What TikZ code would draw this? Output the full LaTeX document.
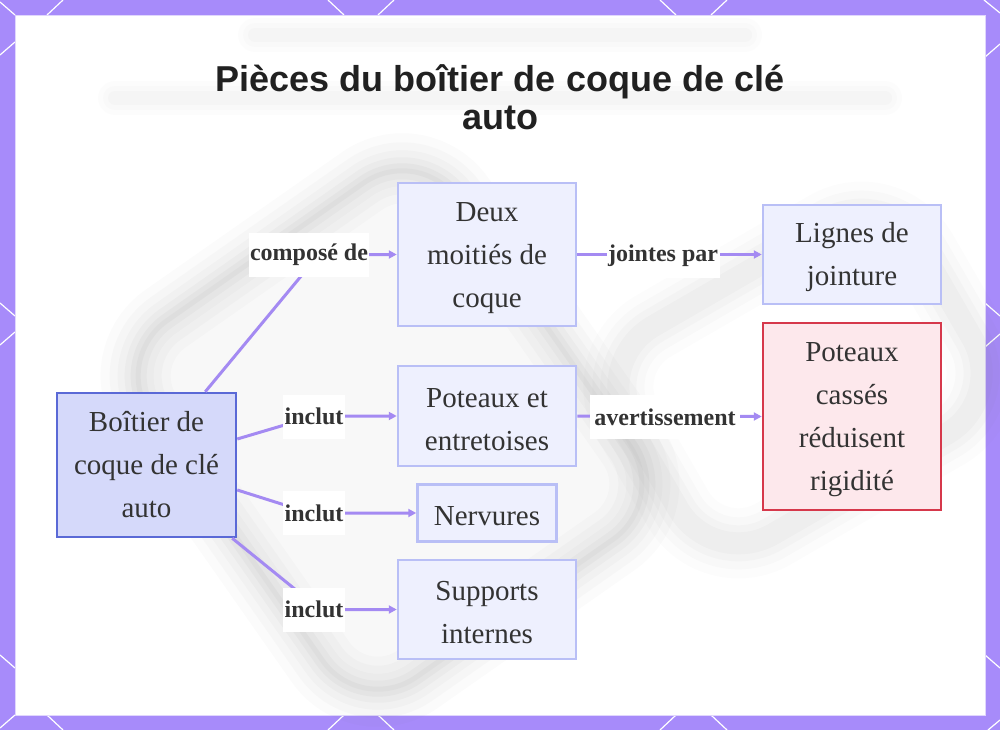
\documentclass[tikz,border=0pt]{standalone}
\usepackage{fontspec}
\setmainfont{Liberation Serif}
\newfontfamily\titlefont{Liberation Sans}
\usetikzlibrary{arrows.meta}
\definecolor{framec}{HTML}{A78BFA}
\definecolor{edgec}{HTML}{A48AF2}
\definecolor{boxfill}{HTML}{EEF0FE}
\definecolor{boxline}{HTML}{B9BFF6}
\definecolor{mainfill}{HTML}{D5D9FA}
\definecolor{mainline}{HTML}{5A69D6}
\definecolor{warnfill}{HTML}{FDE8EC}
\definecolor{warnline}{HTML}{D6384B}
\definecolor{inkc}{HTML}{333333}
\newcommand{\fst}{\rule{0pt}{26pt}}
\begin{document}
\begin{tikzpicture}[x=1pt,y=-1pt,
  box/.style={draw=boxline, fill=boxfill, line width=2.5pt, inner sep=0pt, align=center,
    font=\fontsize{29}{43}\selectfont, text=inkc},
  mainbox/.style={box, draw=mainline, fill=mainfill},
  warnbox/.style={box, draw=warnline, fill=warnfill},
  edge/.style={draw=edgec, line width=3pt, -{Triangle[length=8pt,width=8pt]}},
  lab/.style={fill=white, font=\bfseries\fontsize{24}{28}\selectfont, inner xsep=1.5pt,
    minimum height=44pt, text=inkc},
  blur/.style={draw=gray, rounded corners=70pt},
  smear/.style={line cap=round, draw=gray}
]
\useasboundingbox (0,0) rectangle (1000,730);
% frame
\fill[framec] (0,0) rectangle (1000,730);
\begin{scope}[white, line width=1.2pt]
  % top
  \draw (0,2)--(15,15) (47,15)--(63,0) (328,0)--(344,15) (378,15)--(394,0)
        (660,0)--(676,15) (711,15)--(727,0) (984,0)--(1000,13);
  % bottom
  \draw (0,728)--(15,715) (47,715)--(63,730) (328,730)--(344,715) (378,715)--(394,730)
        (660,730)--(676,715) (711,715)--(727,730) (988,730)--(1000,720);
  % left
  \draw (0,55)--(15,42) (0,303)--(15,316) (0,345)--(15,332) (0,655)--(15,668);
  % right
  \draw (985,57)--(1000,44) (985,303)--(1000,316) (985,347)--(1000,334) (985,655)--(1000,668);
\end{scope}
\fill[white] (15,15) rectangle (985,715);
\draw[framec!35, line width=0.8pt] (15,15) rectangle (985,715);
% blurred background shapes
\begin{scope}[shift={(390,430)}, rotate=35]
  \foreach \w/\o in {70/0.03,52/0.035,36/0.04,22/0.05,10/0.06}
    \draw[blur, line width=\w pt, opacity=\o] (-190,-220) rectangle (190,220);
  \fill[gray, opacity=0.05, rounded corners=70pt] (-190,-220) rectangle (190,220);
\end{scope}
\begin{scope}[shift={(800,380)}, rotate=30]
  \foreach \w/\o in {70/0.025,52/0.03,36/0.035,22/0.04}
    \draw[blur, line width=\w pt, opacity=\o] (-170,-120) rectangle (170,120);
\end{scope}
% blurred smears near the top
\foreach \w/\o in {34/0.02,24/0.025,14/0.03}{
  \draw[smear, line width=\w pt, opacity=\o] (255,35) -- (745,35);
  \draw[smear, line width=\w pt, opacity=\o] (115,98) -- (885,98);
}
% title
\node[inner sep=0pt, align=center, text=black!87,
      font=\titlefont\bfseries\fontsize{36}{38}\selectfont] (title) at (500,97)
  {Pièces du boîtier de coque de clé\\auto};
% nodes
\node[box, minimum width=178pt, minimum height=143pt] (deux) at (487,254.5) {\fst Deux\\moitiés de\\coque};
\node[box, minimum width=178pt, minimum height=99pt] (lignes) at (852,254.5) {\fst Lignes de\\jointure};
\node[box, minimum width=178pt, minimum height=100pt] (poteaux) at (487,416) {\fst Poteaux et\\entretoises};
\node[warnbox, minimum width=178pt, minimum height=187pt] (casses) at (852,416.5) {\fst Poteaux\\cassés\\réduisent\\rigidité};
\node[mainbox, minimum width=179pt, minimum height=144pt] (boitier) at (146.5,465) {Boîtier de\\coque de clé\\auto};
\node[box, minimum width=139pt, minimum height=57pt] (nerv) at (487,513) {\fst Nervures};
\node[box, minimum width=178pt, minimum height=99pt] (supp) at (487,609.5) {\fst Supports\\internes};
% bend points
\coordinate (k1) at (319,254.5);
\coordinate (k2) at (315,416);
\coordinate (k3) at (310,513);
\coordinate (k4) at (320,609.5);
% edges
\draw[edge] ([xshift=-32pt]boitier.north east) -- (k1) -- (deux.west);
\draw[edge] ([yshift=26pt]boitier.east) -- (k2) -- (poteaux.west);
\draw[edge] ([yshift=-25pt]boitier.east) -- (k3) -- (nerv.west);
\draw[edge] ([xshift=-5pt]boitier.south east) -- (k4) -- (supp.west);
\draw[edge] (deux.east) -- (lignes.west);
\draw[edge] (poteaux.east) -- (casses.west);
% labels
\node[lab] (l1) at (309,255) {composé de};
\node[lab] (l2) at (314,416.5) {inclut};
\node[lab] (l3) at (314,513) {inclut};
\node[lab] (l4) at (314,609.5) {inclut};
\node[lab] (l5) at (663,256) {jointes par};
\node[lab, inner xsep=4.5pt] (l6) at (665,417) {avertissement};
\end{tikzpicture}
\end{document}
